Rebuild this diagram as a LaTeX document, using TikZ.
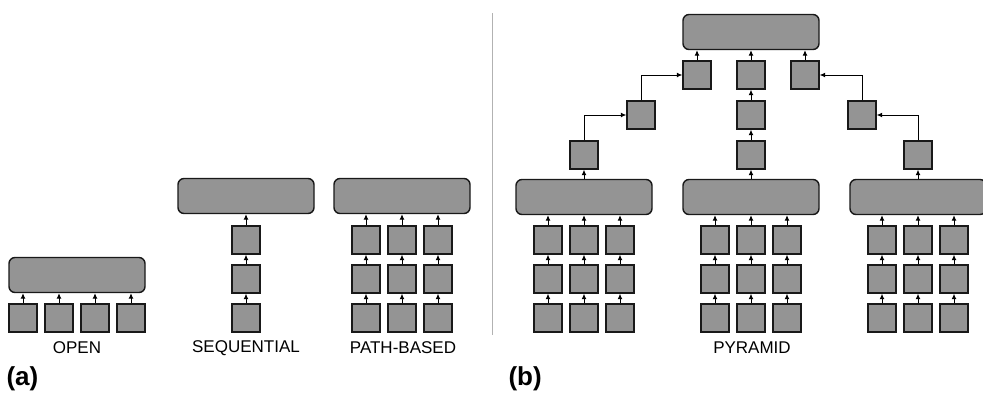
\documentclass[tikz,border=0pt]{standalone}
\usepackage{fontspec}
\setmainfont{Liberation Sans}
\usetikzlibrary{arrows.meta}

\begin{document}
\begin{tikzpicture}[x=1pt, y=-1pt,
  box/.style = {draw=black!90, line width=1.4pt, fill=black!42, minimum size=28pt, inner sep=0pt},
  bar/.style = {draw=black!90, line width=1.4pt, fill=black!42, rounded corners=6pt, minimum width=136pt, minimum height=35pt, inner sep=0pt},
  arr/.style = {-{Latex[length=5.5pt, width=5pt]}, line width=1pt},
  lbl/.style = {font=\fontsize{17}{19}\selectfont},
  tag/.style = {font=\fontsize{26}{28}\selectfont\bfseries, anchor=west}]
\useasboundingbox (0,0) rectangle (983,394);

% open
\node[bar] (o) at (77,275) {};
\foreach \i/\x in {1/23, 2/59, 3/95, 4/131} {
  \node[box] (o\i) at (\x,318) {};
  \draw[arr] (o\i) -- (o\i |- o.south);
}
\node[lbl] (openlbl) at (77,348) {OPEN};

% sequential
\node[bar] (s) at (246,196) {};
\node[box] (s1) at (246,318) {};
\node[box] (s2) at (246,279) {};
\node[box] (s3) at (246,240) {};
\draw[arr] (s1) -- (s2);
\draw[arr] (s2) -- (s3);
\draw[arr] (s3) -- (s);
\node[lbl] (seqlbl) at (246,348) {SEQUENTIAL};

% path-based
\node[bar] (p) at (402,196) {};
\foreach \c/\x in {a/366, b/402, c/438} {
  \node[box] (p\c1) at (\x,318) {};
  \node[box] (p\c2) at (\x,279) {};
  \node[box] (p\c3) at (\x,240) {};
  \draw[arr] (p\c1) -- (p\c2);
  \draw[arr] (p\c2) -- (p\c3);
  \draw[arr] (p\c3) -- (p\c3 |- p.south);
}
\node[lbl] (pathlbl) at (403,348) {PATH-BASED};

\draw[black!30, line width=1pt] (492,13) -- (492,335);

% pyramid, bottom level
\foreach \g/\cx in {l/584, m/751, r/918} {
  \node[bar] (b\g) at (\cx,197) {};
  \foreach \c/\dx in {a/-36, b/0, c/36} {
    \node[box] (b\g\c1) at ({\cx+\dx},318) {};
    \node[box] (b\g\c2) at ({\cx+\dx},279) {};
    \node[box] (b\g\c3) at ({\cx+\dx},240) {};
    \draw[arr] (b\g\c1) -- (b\g\c2);
    \draw[arr] (b\g\c2) -- (b\g\c3);
    \draw[arr] (b\g\c3) -- (b\g\c3 |- b\g.south);
  }
}

% pyramid, upper levels
\node[bar] (top) at (751,32) {};
\node[box] (cl1) at (584,155) {};
\node[box] (cl2) at (641,115) {};
\node[box] (cl3) at (697,75) {};
\node[box] (cm1) at (751,155) {};
\node[box] (cm2) at (751,115) {};
\node[box] (cm3) at (751,75) {};
\node[box] (cr1) at (918,155) {};
\node[box] (cr2) at (862,115) {};
\node[box] (cr3) at (805,75) {};

\draw[arr] (bl) -- (cl1);
\draw[arr] (cl1.north) |- (cl2);
\draw[arr] (cl2.north) |- (cl3);
\draw[arr] (cl3) -- (cl3 |- top.south);

\draw[arr] (bm) -- (cm1);
\draw[arr] (cm1) -- (cm2);
\draw[arr] (cm2) -- (cm3);
\draw[arr] (cm3) -- (top);

\draw[arr] (br) -- (cr1);
\draw[arr] (cr1.north) |- (cr2);
\draw[arr] (cr2.north) |- (cr3);
\draw[arr] (cr3) -- (cr3 |- top.south);

\node[lbl] (pyrlbl) at (752,348) {PYRAMID};

\node[tag] (taga) at (3,379) {(a)};
\node[tag] (tagb) at (505,379) {(b)};
\end{tikzpicture}
\end{document}
